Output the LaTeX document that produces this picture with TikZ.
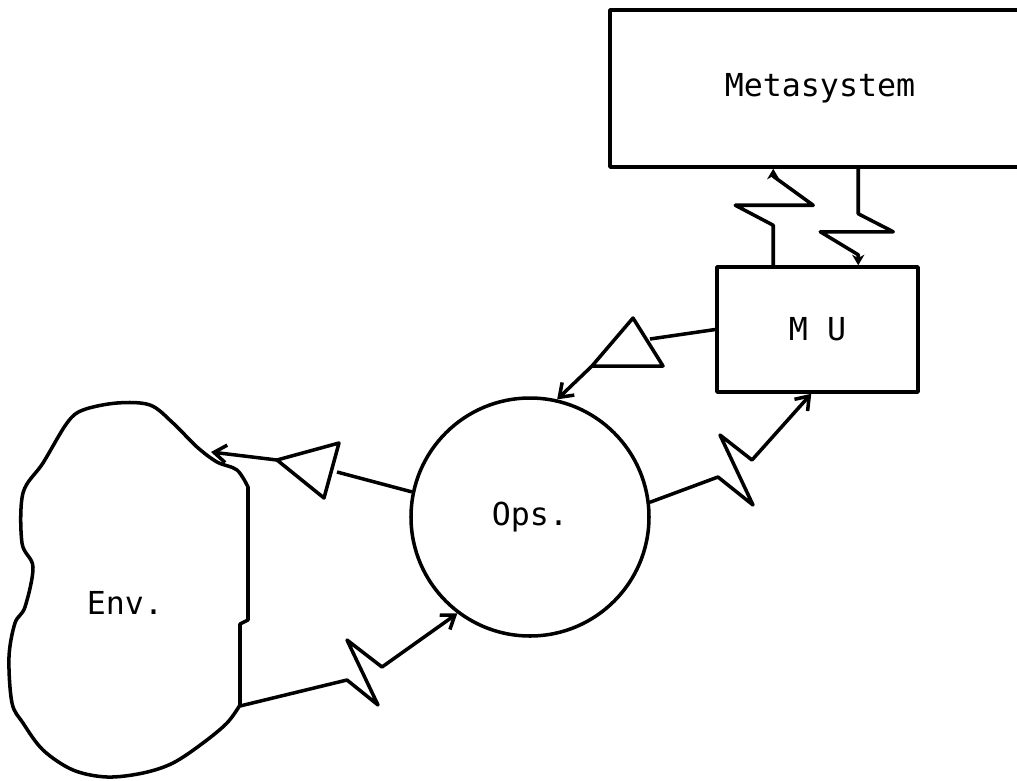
\documentclass[tikz,border=0pt]{standalone}
\usepackage{fontspec}
\setmonofont{DejaVu Sans Mono}
\usetikzlibrary{arrows.meta}

\begin{document}
\begin{tikzpicture}[x=0.1mm, y=-0.1mm, line width=1pt, line join=round,
        lbl/.style={font=\ttfamily\fontsize{9}{9}\selectfont},
        box/.style={draw, rectangle, inner sep=0pt, lbl},
        tip/.style={-{Straight Barb[length=3.5pt,width=5pt]}},
        dot/.style={-{Stealth[length=3pt,width=3.5pt]}}]
    \useasboundingbox (0, 0) rectangle (1017, 781);

    \node[box, minimum width=42mm, minimum height=15.7mm] (meta) at (820, 88.5) {Metasystem};
    \node[box, minimum width=20.1mm, minimum height=12.5mm] (mu) at (817.5, 329.5) {M U};
    \node[draw, circle, minimum size=23.8mm, inner sep=0pt, lbl] (ops) at (530, 517) {Ops.};

    \draw (240, 705) -- (240, 624) -- (248, 620) -- (248, 487)
        -- plot[smooth, tension=0.55] coordinates {
        (248, 487) (237, 470) (217, 462) (197, 447) (173, 423) (150, 405)
        (117, 403) (83, 410) (67, 423) (43, 463) (23, 493) (22, 543)
        (33, 567) (25, 607) (15, 623) (9, 657) (12, 703) (23, 723)
        (43, 750) (73, 770) (107, 777) (143, 773) (173, 763) (203, 743)
        (227, 723) (240, 705)} -- cycle;
    \node[lbl] (env) at (125, 603) {Env.};
    \coordinate (envtop) at (211, 452);
    \coordinate (envright) at (240, 706);

    \path (mu.north west) ++(58, 0) coordinate (upfrom);
    \path (meta.south west) ++(165, 0) coordinate (upto);
    \path (meta.south west) ++(250, 0) coordinate (downfrom);
    \path (mu.north west) ++(143, 0) coordinate (downto);
    \path (mu.south west) ++(96, 0) coordinate (muin);

    \draw[dot] (upfrom) -- ++(0, -40) -- ++(-38, -20) -- ++(78, 0) -- ++(-40, -29) -- (upto);
    \draw[dot] (downfrom) -- ++(0, 45) -- ++(35, 18) -- ++(-73, 0) -- ++(38, 23) -- (downto);

    \draw (mu.west) -- (650, 339);
    \draw (633, 318) -- (592, 366) -- (663, 366) -- cycle;
    \draw[tip] (592, 366) -- (ops.77);

    \draw (ops.168.5) -- (337, 472);
    \draw (339, 443) -- (324, 498) -- (277, 460) -- cycle;
    \draw[tip] (277, 460) -- (envtop);

    \draw[tip] (envright) -- (347, 680) -- (378, 705) -- (347, 640) -- (382, 667) -- (ops.-127);
    \draw[tip] (ops.7) -- (718, 477) -- (753, 505) -- (720, 435) -- (752, 460) -- (muin);
\end{tikzpicture}
\end{document}
